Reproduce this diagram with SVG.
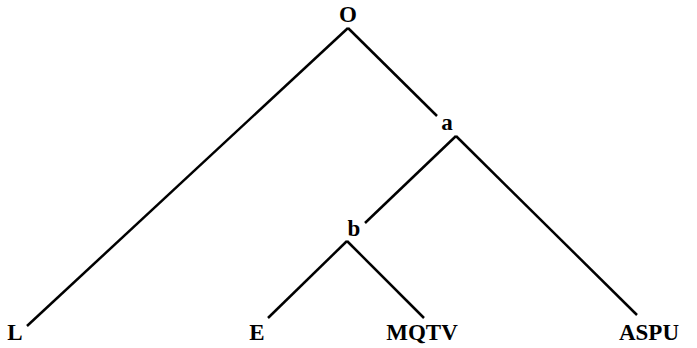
<svg xmlns="http://www.w3.org/2000/svg" width="697" height="348" viewBox="0 0 697 348">
<style>
.l{stroke:#000;stroke-width:2.5;fill:none;stroke-linecap:butt}
text{font-family:"Liberation Serif","Times New Roman",serif;font-weight:bold;font-size:23px;fill:#000;text-anchor:middle}
</style>
<rect width="697" height="348" fill="#fff"/>
<g id="connectors">
<line class="l" x1="348" y1="28" x2="27" y2="326"/>
<line class="l" x1="348" y1="28" x2="437" y2="116"/>
<line class="l" x1="456" y1="136" x2="637" y2="315"/>
<line class="l" x1="456" y1="136" x2="365" y2="223"/>
<line class="l" x1="347" y1="241" x2="424" y2="318"/>
<line class="l" x1="347" y1="241" x2="268" y2="318"/>
</g>
<g id="O"><text x="348" y="22">O</text></g>
<g id="a"><text x="447" y="130">a</text></g>
<g id="b"><text x="354" y="236">b</text></g>
<g id="L"><text x="15" y="340">L</text></g>
<g id="E"><text x="257" y="340">E</text></g>
<g id="MQTV"><text x="422" y="340">MQTV</text></g>
<g id="ASPU"><text x="649" y="340">ASPU</text></g>
</svg>
